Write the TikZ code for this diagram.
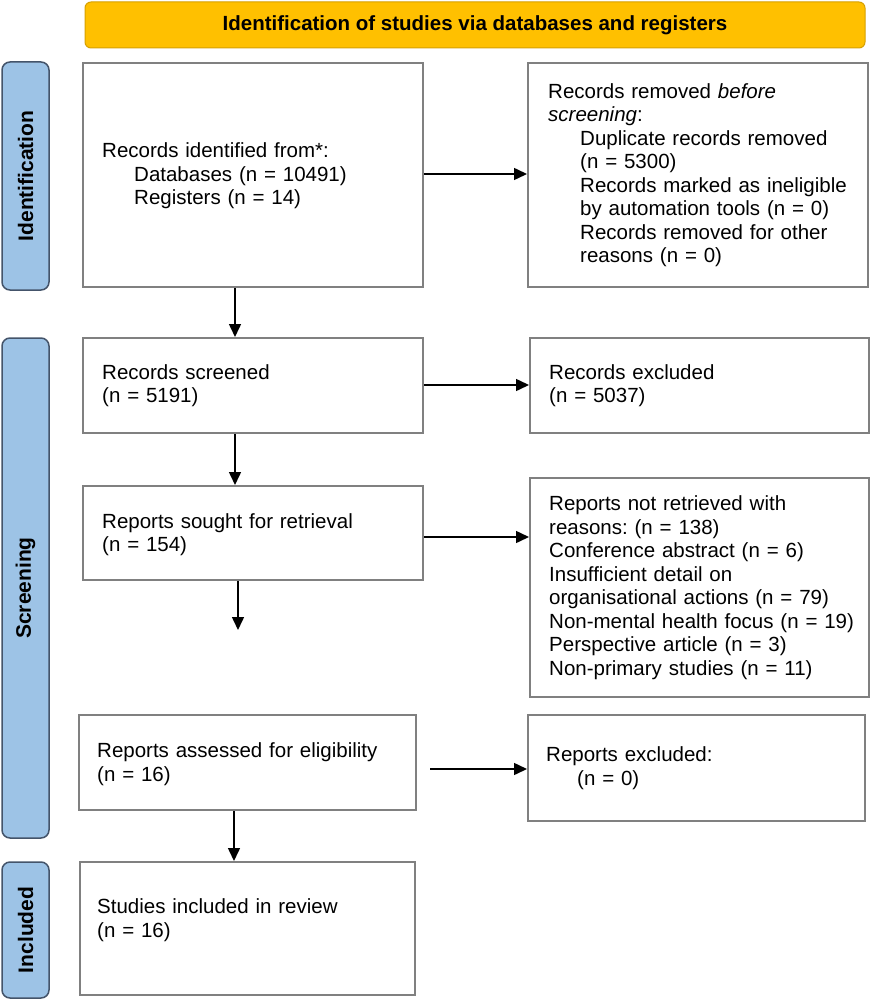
\documentclass[tikz,border=0pt]{standalone}
\usepackage{fontspec}
\setmainfont{Liberation Sans}
\usetikzlibrary{arrows.meta}
\frenchspacing
\definecolor{gold}{RGB}{255,192,0}
\definecolor{goldedge}{RGB}{214,160,0}
\definecolor{sideblue}{RGB}{157,195,230}
\definecolor{sideedge}{RGB}{68,84,106}
\definecolor{boxedge}{RGB}{128,128,128}
\begin{document}
\begin{tikzpicture}[x=1pt,y=-1pt,
  box/.style={draw=boxedge, line width=2pt, fill=white, inner sep=0pt},
  txt/.style={inner sep=0pt, anchor=west, align=left, text width=#1,
    font=\fontsize{20.5}{23.5}\selectfont},
  side/.style={draw=sideedge, fill=sideblue, line width=1.5pt, rounded corners=8pt,
    inner sep=0pt, rotate=90, font=\bfseries\fontsize{21}{24}\selectfont},
  banner/.style={draw=goldedge, fill=gold, line width=1pt, rounded corners=6pt,
    inner sep=0pt, font=\bfseries\fontsize{20.5}{24}\selectfont},
  arr/.style={-{Triangle[length=13pt,width=12pt]}, line width=1.5pt, black}]
\useasboundingbox (0,0) rectangle (874,1000);

% banner
\node[banner, minimum width=780pt, minimum height=46pt] (ban) at (475,25)
  {Identification of studies via databases and registers};

% side labels
\node[side, minimum width=228pt, minimum height=47pt] (sid) at (25.5,176) {Identification};
\node[side, minimum width=500pt, minimum height=47pt] (ssc) at (25.5,588) {Screening};
\node[side, minimum width=136pt, minimum height=47pt] (sin) at (25.5,930) {Included};

% left column boxes
\node[box, minimum width=340pt, minimum height=224pt] (b1) at (253,175) {};
\node[box, minimum width=340pt, minimum height=95pt] (b2) at (253,385.5) {};
\node[box, minimum width=340pt, minimum height=94pt] (b3) at (253,533) {};
\node[box, minimum width=337pt, minimum height=95pt] (b4) at (247.5,762.5) {};
\node[box, minimum width=335pt, minimum height=133pt] (b5) at (247.5,928.5) {};

% right column boxes
\node[box, minimum width=340pt, minimum height=224pt] (r1) at (698,175) {};
\node[box, minimum width=339pt, minimum height=95pt] (r2) at (699.5,385.5) {};
\node[box, minimum width=339pt, minimum height=219pt] (r3) at (699.5,587.5) {};
\node[box, minimum width=337pt, minimum height=106pt] (r4) at (696.5,768) {};

% texts
\node[txt=300pt] (t1) at (102,176) {Records identified from*:\\
  \hspace*{32pt}Databases (n = 10491)\\
  \hspace*{32pt}Registers (n = 14)};
\node[txt=300pt] (t2) at (102,385.5) {Records screened\\(n = 5191)};
\node[txt=300pt] (t3) at (102,534.5) {Reports sought for retrieval\\(n = 154)};
\node[txt=300pt] (t4) at (97,764) {Reports assessed for eligibility\\(n = 16)};
\node[txt=300pt] (t5) at (97,920) {Studies included in review\\(n = 16)};

\node[txt=312pt] (tr1) at (548,175) {Records removed \textit{before}\\
  \textit{screening}:\\
  \hspace*{32pt}Duplicate records removed\\
  \hspace*{32pt}(n = 5300)\\
  \hspace*{32pt}Records marked as ineligible\\
  \hspace*{32pt}by automation tools (n = 0)\\
  \hspace*{32pt}Records removed for other\\
  \hspace*{32pt}reasons (n = 0)};
\node[txt=312pt] (tr2) at (549,385.5) {Records excluded\\(n = 5037)};
\node[txt=312pt] (tr3) at (549,587.5) {Reports not retrieved with\\
  reasons: (n = 138)\\
  Conference abstract (n = 6)\\
  Insufficient detail on\\
  organisational actions (n = 79)\\
  Non-mental health focus (n = 19)\\
  Perspective article (n = 3)\\
  Non-primary studies (n = 11)};
\node[txt=310pt] (tr4) at (546,768) {Reports excluded:\\\hspace*{31pt}(n = 0)};

% arrow helper coordinates
\coordinate (cx1) at (235,0);
\coordinate (cx4) at (234,0);
\coordinate (e3) at (238,630);
\coordinate (cy1) at (0,174);
\coordinate (cy2) at (0,385);
\coordinate (cy3) at (0,537);
\coordinate (cy4) at (0,769);

% vertical arrows
\draw[arr] (b1.south -| cx1) -- (b2.north -| cx1);
\draw[arr] (b2.south -| cx1) -- (b3.north -| cx1);
\draw[arr] (b3.south -| e3) -- (e3);
\draw[arr] (b4.south -| cx4) -- (b5.north -| cx4);

% horizontal arrows
\draw[arr] (b1.east |- cy1) -- (r1.west |- cy1);
\draw[arr] (b2.east |- cy2) -- (r2.west |- cy2);
\draw[arr] (b3.east |- cy3) -- (r3.west |- cy3);
\draw[arr, shorten <=13pt] (b4.east |- cy4) -- (r4.west |- cy4);
\end{tikzpicture}
\end{document}
